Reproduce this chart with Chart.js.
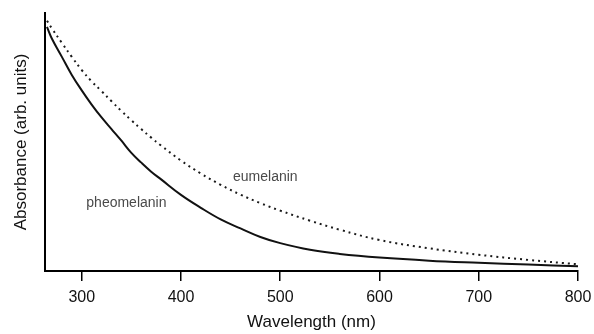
<!DOCTYPE html>
<html>
<head>
<meta charset="utf-8">
<script src="https://cdn.jsdelivr.net/npm/chart.js@4.4.1/dist/chart.umd.min.js"></script>
<style>
  html, body { margin: 0; padding: 0; background: #fff; }
  #absChart { display: block; }
</style>
</head>
<body>
<canvas id="absChart" width="594" height="334"></canvas>
<script>
// wavelength samples (nm)
const wavelengths = [265, 270, 280, 290, 300, 310, 320, 330, 340, 350, 360, 370, 380, 400, 420, 440, 460, 480, 500, 530, 560, 600, 650, 700, 750, 800];
// absorbance, arbitrary units
const eumelanin = [0.97, 0.94, 0.884, 0.83, 0.779, 0.735, 0.697, 0.658, 0.62, 0.584, 0.55, 0.517, 0.486, 0.428, 0.378, 0.334, 0.296, 0.263, 0.234, 0.195, 0.16, 0.12, 0.088, 0.063, 0.043, 0.026];
const pheomelanin = [0.946, 0.90, 0.83, 0.76, 0.70, 0.645, 0.595, 0.55, 0.505, 0.458, 0.42, 0.385, 0.355, 0.295, 0.245, 0.20, 0.165, 0.132, 0.108, 0.082, 0.066, 0.052, 0.040, 0.032, 0.025, 0.018];
const xTicks = [300, 400, 500, 600, 700, 800];

const FONT = '"Liberation Sans", Arial, Helvetica, sans-serif';

function toPoints(values) {
  return wavelengths.map((w, i) => ({ x: w, y: values[i] }));
}

// curve labels, placed in data coordinates
const curveLabels = [
  { text: 'eumelanin', x: 485, y: 0.364 },
  { text: 'pheomelanin', x: 345, y: 0.263 }
];

const labelPlugin = {
  id: 'curveLabels',
  afterDatasetsDraw(chart) {
    const ctx = chart.ctx;
    const xs = chart.scales.x;
    const ys = chart.scales.y;
    ctx.save();
    ctx.font = '14px ' + FONT;
    ctx.fillStyle = '#4a4a4a';
    ctx.textAlign = 'center';
    ctx.textBaseline = 'middle';
    curveLabels.forEach(l => {
      ctx.fillText(l.text, xs.getPixelForValue(l.x), ys.getPixelForValue(l.y));
    });
    ctx.restore();
  }
};

const ctx = document.getElementById('absChart').getContext('2d');
new Chart(ctx, {
  type: 'line',
  data: {
    datasets: [
      {
        label: 'eumelanin',
        data: toPoints(eumelanin),
        borderColor: '#1a1a1a',
        borderWidth: 2,
        borderDash: [2, 4],
        pointRadius: 0,
        fill: false,
        tension: 0.4
      },
      {
        label: 'pheomelanin',
        data: toPoints(pheomelanin),
        borderColor: '#111',
        borderWidth: 2,
        pointRadius: 0,
        fill: false,
        tension: 0.4
      }
    ]
  },
  options: {
    responsive: false,
    animation: false,
    layout: { padding: { left: 0, right: 16, top: 13, bottom: 0 } },
    plugins: {
      legend: { display: false },
      tooltip: { enabled: false }
    },
    scales: {
      x: {
        type: 'linear',
        min: 263,
        max: 800,
        afterBuildTicks: (scale) => {
          scale.ticks = xTicks.map(v => ({ value: v }));
        },
        afterFit: (scale) => {
          scale.height = 63;
          scale.paddingRight = 0;
          scale.paddingLeft = 0;
        },
        border: { display: true, color: '#000', width: 2 },
        grid: { drawOnChartArea: false, drawTicks: true, tickLength: 10, color: '#000', lineWidth: 1.5 },
        ticks: {
          color: '#111',
          font: { family: FONT, size: 16 },
          padding: 7,
          maxRotation: 0,
          autoSkip: false
        },
        title: {
          display: true,
          text: 'Wavelength (nm)',
          color: '#111',
          font: { family: FONT, size: 17 },
          padding: { top: 0, bottom: 1 }
        }
      },
      y: {
        type: 'linear',
        min: 0,
        max: 1,
        afterFit: (scale) => { scale.width = 45; },
        border: { display: true, color: '#000', width: 2 },
        grid: { display: true, drawOnChartArea: false, drawTicks: false },
        ticks: { display: false },
        title: {
          display: true,
          text: 'Absorbance (arb. units)',
          color: '#111',
          font: { family: FONT, size: 17 },
          padding: { top: 11, bottom: 0 }
        }
      }
    }
  },
  plugins: [labelPlugin]
});
</script>
</body>
</html>
